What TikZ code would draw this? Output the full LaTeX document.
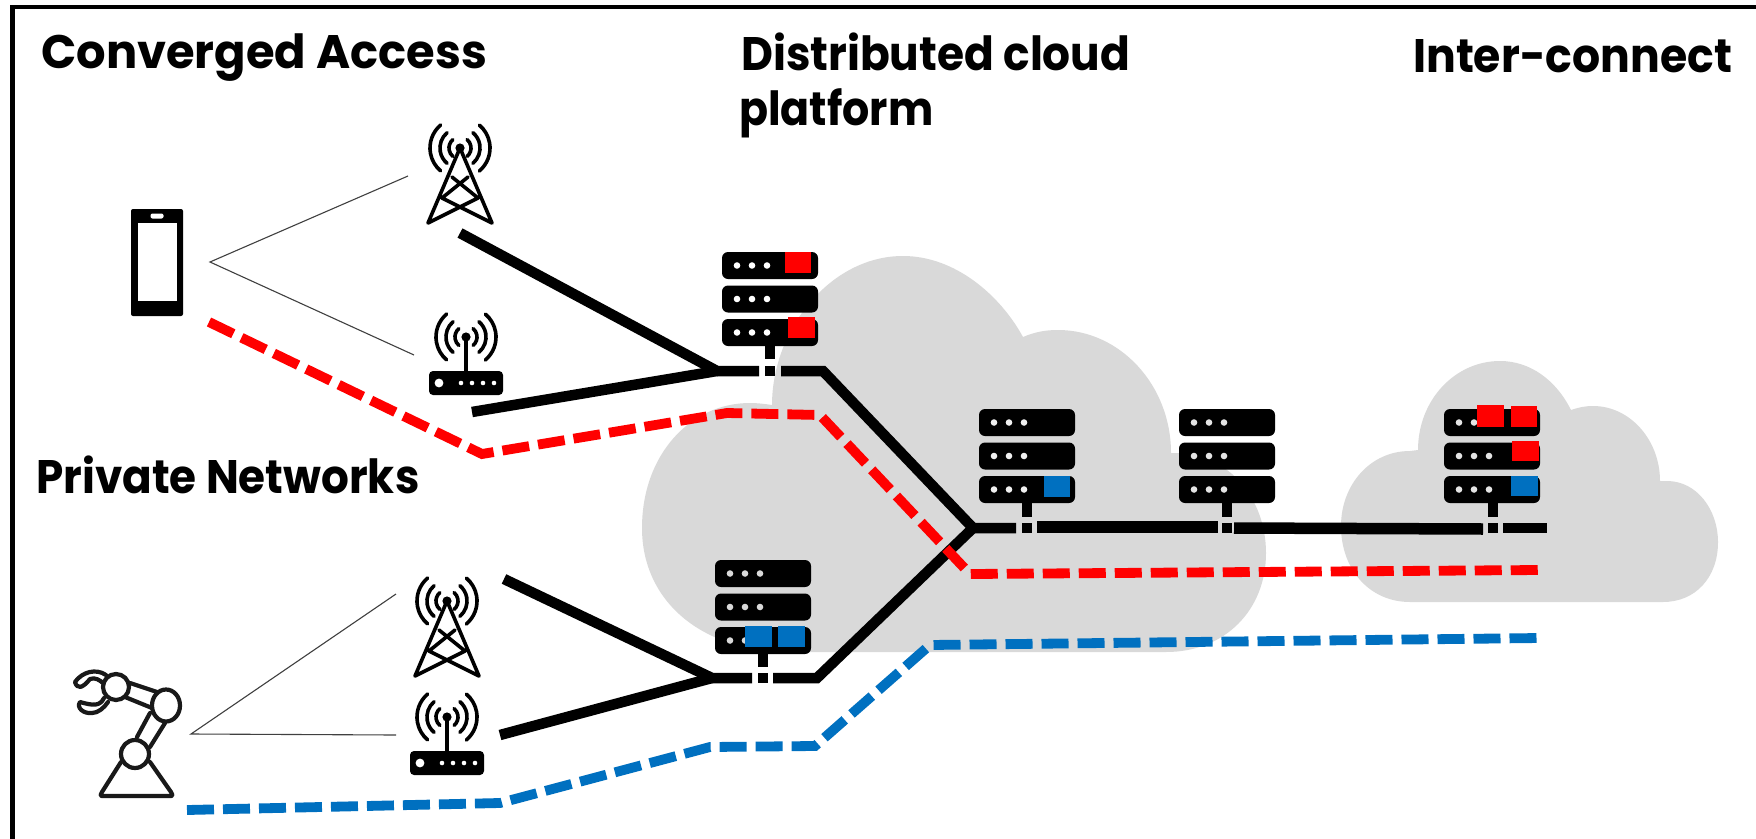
\documentclass[tikz,border=0pt]{standalone}
\usepackage{fontspec}
\setmainfont{Poppins}
\definecolor{cloudgray}{HTML}{D9D9D9}
\definecolor{pblue}{HTML}{0070C0}
\tikzset{
  headtext/.style={font=\fontsize{47}{47}\selectfont\bfseries,anchor=base west,inner sep=0pt,text=black,transform shape},
  fatline/.style={line width=10.5pt,black,line cap=butt},
  thinline/.style={line width=1.1pt,black!75},
  reddash/.style={line width=9.8pt,red,dash pattern=on 27pt off 9pt,line cap=butt,line join=miter},
  bluedash/.style={line width=9.8pt,pblue,dash pattern=on 27pt off 9pt,line cap=butt,line join=miter},
  cloudshape/.style={fill=cloudgray,draw=none},
  redbox/.style={fill=red,draw=none},
  bluebox/.style={fill=pblue,draw=none},
  radiowave/.style={line width=3.6pt,black,line cap=round},
  pics/waves/.style={code={
    \fill[black] (0,0) circle[radius=4.6pt];
    \foreach \r/\cc/\ss in {30/19.3/23,20/12.9/15.3,11/7.1/8.4}{
      \draw[radiowave] (-\cc,-\ss) arc[start angle=130,end angle=230,radius=\r pt];
      \draw[radiowave] (\cc,\ss) arc[start angle=-50,end angle=50,radius=\r pt];
    }
  }},
  pics/tower/.style={code={
    \pic {waves};
    \draw[line width=3.6pt,line join=round,line cap=round]
      (0,0) -- (-32,75) -- (18,50) -- (-8,29)
      (0,0) -- (32,75) -- (-18,50) -- (8,29)
      (-18,50) -- (8,29) (18,50) -- (-8,29);
  }},
  pics/router/.style={code={
    \pic {waves};
    \draw[line width=3.6pt] (0,0) -- (0,35);
    \fill[black,rounded corners=4pt] (-37,34) rectangle (37,58);
    \fill[white] (-27,46) circle[radius=4.4pt];
    \foreach \x in {-5,6,17,28}{\fill[white] (\x,46) circle[radius=2.3pt];}
  }},
  pics/serverstack/.style={code={
    \foreach \y in {0,33.5,67}{
      \fill[black,rounded corners=6pt] (0,\y) rectangle (96,\y+27);
      \foreach \x in {15,30,45}{\fill[#1] (\x,\y+13.5) circle[radius=3.3pt];}
    }
  }},
}
\begin{document}
\begin{tikzpicture}[x=1pt,y=-1pt]
\useasboundingbox (0,0) rectangle (1756,838);
\fill[white] (0,0) rectangle (1756,838);
% frame: top and left edges only
\draw[line width=4.5pt,black] (1756,7) -- (12.5,7) -- (12.5,860);
% clouds
\fill[cloudshape] (772,405) .. controls (772,330) and (830,256) .. (903,256)
  .. controls (955,256) and (1000,295) .. (1023,337)
  .. controls (1035,332) and (1045,330) .. (1058,330)
  .. controls (1120,330) and (1171,385) .. (1171,453)
  -- (1175,453) .. controls (1230,453) and (1266,500) .. (1266,553)
  .. controls (1266,610) and (1225,652) .. (1166,652)
  -- (791,652) .. controls (700,652) and (642,600) .. (642,528)
  .. controls (642,455) and (690,403) .. (750,403)
  .. controls (758,403) and (765,404) .. (772,405) -- cycle;
\fill[cloudshape] (1418,450) .. controls (1418,400) and (1455,361) .. (1500,361)
  .. controls (1530,361) and (1556,380) .. (1571,410)
  .. controls (1580,407) and (1586,406) .. (1593,406)
  .. controls (1630,406) and (1660,440) .. (1660,481)
  -- (1667,481) .. controls (1697,481) and (1718,510) .. (1718,542)
  .. controls (1718,578) and (1695,602) .. (1663,602)
  -- (1410,602) .. controls (1370,602) and (1341,570) .. (1341,526)
  .. controls (1341,485) and (1370,451) .. (1410,451) -- cycle;
% labels
\node[headtext,xscale=.987] (lconv) at (41,68) {Converged Access};
\node[headtext,xscale=.934] (ldist) at (741,70) {Distributed cloud};
\node[headtext,xscale=.91] (lplat) at (739,125) {platform};
\node[headtext,xscale=.94] (linter) at (1413,72) {Inter-connect};
\node[headtext,xscale=.93] (lpriv) at (36,493) {Private Networks};
% phone
\fill[black,rounded corners=2pt] (131,209) rectangle (183,316);
\fill[white] (138,223) rectangle (177,301);
\fill[white,rounded corners=2pt] (150.5,213.5) rectangle (163.5,218.5);
% robot
\begin{scope}[line width=4.2pt,draw=black!90,line join=round,line cap=round]
  \draw (121,762) -- (102,792) .. controls (100,796) .. (104,796) -- (169,796) .. controls (173,796) .. (171,792) -- (150,762);
  \draw (150,713) -- (137,737) (165,723) -- (150,747);
  \draw (130,683) -- (157,692) (125,697) -- (152,708);
  \draw (106,675) .. controls (96,668) and (82,672) .. (75,682) .. controls (77,689) and (82,689) .. (90,679) .. controls (95,677) and (100,680) .. (104,684);
  \draw (104,698) .. controls (100,706) and (94,706) .. (80,702) .. controls (76,708) and (84,714) .. (92,713) .. controls (98,713) and (104,708) .. (108,702);
  \draw[fill=white] (135,754) circle[radius=14pt];
  \draw[fill=white] (166,705.5) circle[x radius=14pt,y radius=16pt];
  \draw[fill=white] (116,687) circle[radius=13pt];
\end{scope}
% radio icons
\pic (towerA) at (460,148) {tower};
\pic (routerA) at (466,337) {router};
\pic (towerB) at (447,601) {tower};
\pic (routerB) at (447,717) {router};
% anchor coordinates
\coordinate (phoneapex) at (210,262);
\coordinate (phtop) at (408,176);
\coordinate (phbot) at (414,355);
\coordinate (robapex) at (191,734);
\coordinate (rbtop) at (396,594);
\coordinate (rbbot) at (396,735);
\coordinate (tA) at (460,233);
\coordinate (rA) at (472,412);
\coordinate (tB) at (504,579);
\coordinate (rB) at (500,735);
\coordinate (ja) at (717,371);
\coordinate (jae) at (759,371);
\coordinate (jas) at (781,371);
\coordinate (cora) at (823,371);
\coordinate (jb) at (712,678);
\coordinate (jbe) at (752,678);
\coordinate (jbs) at (773,678);
\coordinate (corb) at (817,678);
\coordinate (hub) at (973,528);
\coordinate (he1) at (1016,528);
\coordinate (hs2) at (1037,527);
\coordinate (he2) at (1218,527);
\coordinate (hs3) at (1234,528);
\coordinate (he3) at (1483,529);
\coordinate (hs4) at (1503,528);
\coordinate (he4) at (1547,528);
% thin lines
\draw[thinline] (phtop) -- (phoneapex) -- (phbot);
\draw[thinline] (rbtop) -- (robapex) -- (rbbot);
% servers
\pic (srvA) at (722,252) {serverstack=white};
\pic (srvB) at (715,560) {serverstack=cloudgray};
\pic (srvC) at (979,409) {serverstack=white!60!cloudgray};
\pic (srvD) at (1179,409) {serverstack=white!30!cloudgray};
\pic (srvE) at (1444,409) {serverstack=white!30!cloudgray};
% server stubs and gaps
\foreach \x/\ya/\yb/\yc/\yd in {765/345/359/366/376, 758/653/667/673/683, 1022/503/517/523/533, 1222/503/517/523/533, 1488/503/517/523/533}{
  \fill[black] (\x,\ya) rectangle (\x+10,\yb);
  \fill[black] (\x,\yc) rectangle (\x+10,\yd);
}
% black links
\draw[fatline,line join=bevel] (tA) -- (ja) -- (jae);
\draw[fatline,line join=bevel] (rA) -- (ja);
\draw[fatline,line join=miter] (jas) -- (cora) -- (hub) -- (he1);
\draw[fatline,line join=bevel] (tB) -- (jb) -- (jbe);
\draw[fatline,line join=bevel] (rB) -- (jb);
\draw[fatline,line join=miter] (jbs) -- (corb) -- (hub);
\draw[fatline,line width=11.5pt] (hs2) -- (he2);
\draw[fatline,line width=11.5pt] (hs3) -- (he3);
\draw[fatline] (hs4) -- (he4);
% dashed slices
\coordinate (rd0) at (209,322);
\coordinate (rd1) at (482,454);
\coordinate (rd2) at (727,413);
\coordinate (rd3) at (820,415);
\coordinate (rd4) at (970,574);
\coordinate (rd5) at (1540,570);
\draw[reddash] (rd0) -- (rd1) -- (rd2) -- (rd3) -- (rd4) -- (rd5);
\coordinate (bd0) at (187,810);
\coordinate (bd1) at (500,803);
\coordinate (bd2) at (710,747);
\coordinate (bd3) at (815,746);
\coordinate (bd4) at (930,645);
\coordinate (bd5) at (1540,638);
\draw[bluedash] (bd0) -- (bd1) -- (bd2) -- (bd3) -- (bd4) -- (bd5);
% slice markers on servers
\fill[redbox] (785,252) rectangle (811,273);
\fill[redbox] (788,317) rectangle (815,338);
\fill[bluebox] (1044,476) rectangle (1070,497);
\fill[redbox] (1477,405) rectangle (1504,427);
\fill[redbox] (1511,406) rectangle (1537,427);
\fill[redbox] (1512,441) rectangle (1539,461);
\fill[bluebox] (1511,476) rectangle (1538,496);
\fill[bluebox] (745,626) rectangle (772,647);
\fill[bluebox] (778,626) rectangle (805,647);
\end{tikzpicture}
\end{document}
